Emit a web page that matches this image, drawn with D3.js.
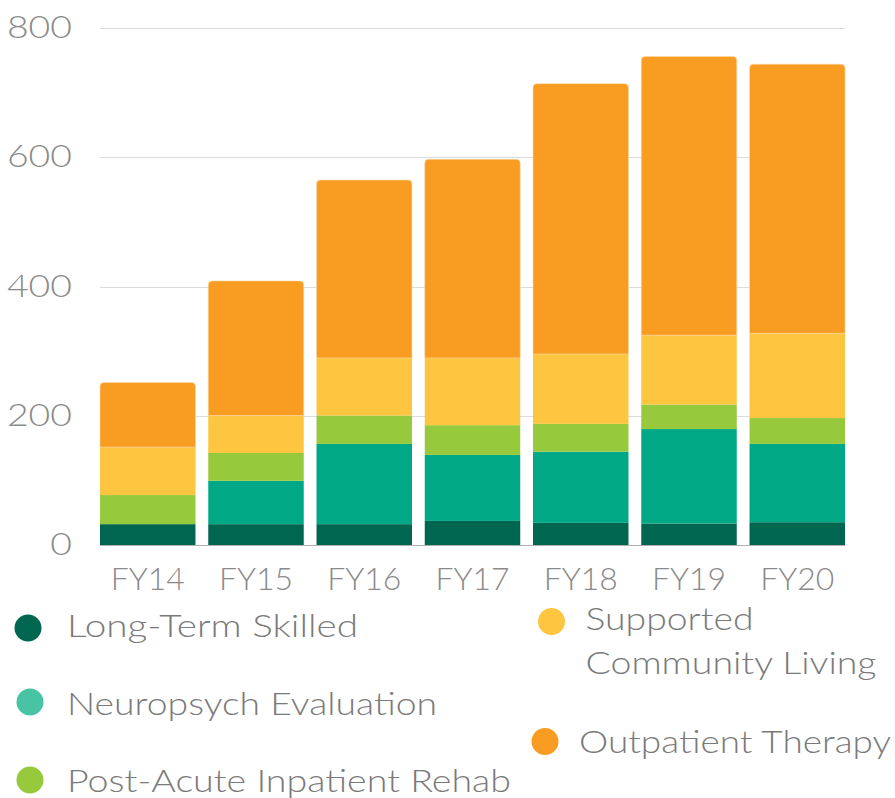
<!DOCTYPE html>
<html>
<head>
<meta charset="utf-8">
<script src="https://cdn.jsdelivr.net/npm/d3@7"></script>
<style>
  html, body { margin: 0; padding: 0; background: #fff; }
  svg { display: block; font-family: Lato, "Open Sans", sans-serif; font-weight: 300; }
</style>
</head>
<body>
<svg id="chart" width="895" height="798"></svg>
<script>
const categories = ["FY14", "FY15", "FY16", "FY17", "FY18", "FY19", "FY20"];
const seriesNames = ["Long-Term Skilled", "Neuropsych Evaluation", "Post-Acute Inpatient Rehab", "Supported Community Living", "Outpatient Therapy"];
const longTermSkilled = [33, 33, 33, 38, 35, 34, 36];
const neuropsychEvaluation = [0, 67, 124, 102, 110, 146, 121];
const postAcuteRehab = [45, 43, 44, 46, 43, 38, 40];
const supportedCommunityLiving = [74, 58, 89, 104, 108, 107, 131];
const outpatientTherapy = [100, 208, 275, 307, 418, 431, 416];
const yTicks = [0, 200, 400, 600, 800];

const barColors = ["#006650", "#00A886", "#97C93D", "#FDC540", "#F89C22"];
const dotColors = ["#006650", "#48C4A4", "#97C93D", "#FDC540", "#F89C22"];

const seriesValues = [longTermSkilled, neuropsychEvaluation, postAcuteRehab, supportedCommunityLiving, outpatientTherapy];
const keys = seriesNames;
const table = categories.map((c, i) => {
  const row = { cat: c };
  keys.forEach((k, j) => row[k] = seriesValues[j][i]);
  return row;
});

const svg = d3.select("#chart");
const x = d3.scaleBand().domain(categories).range([100, 845]).paddingInner(0.118).paddingOuter(0);
const y = d3.scaleLinear().domain([0, 800]).range([545.5, 28]);

// gridlines
svg.append("g").selectAll("line").data(yTicks.filter(d => d > 0)).join("line")
  .attr("x1", 100).attr("x2", 845)
  .attr("y1", d => Math.round(y(d)) + 0.5).attr("y2", d => Math.round(y(d)) + 0.5)
  .attr("stroke", "#dcdcdc").attr("stroke-width", 1);

// y axis labels
const yAxis = d3.axisLeft(y).tickValues(yTicks).tickSize(0).tickPadding(0).tickFormat(d3.format("d"));
const gy = svg.append("g").attr("transform", "translate(72,0)").call(yAxis);
gy.select(".domain").remove();
gy.selectAll("text").attr("font-size", 31).attr("fill", "#8a8a8a")
  .attr("font-family", "Lato, 'Open Sans', sans-serif").attr("font-weight", 300).attr("dy", "0.3em")
  .attr("textLength", d => String(d).length * 21.7).attr("lengthAdjust", "spacingAndGlyphs");

// stacked bars
const stack = d3.stack().keys(keys)(table);
const topRadius = 4;
function roundTopPath(x0, y0, w, h, r) {
  return `M${x0},${y0 + h} L${x0},${y0 + r} Q${x0},${y0} ${x0 + r},${y0} L${x0 + w - r},${y0} Q${x0 + w},${y0} ${x0 + w},${y0 + r} L${x0 + w},${y0 + h} Z`;
}
stack.forEach((layer, li) => {
  const g = svg.append("g").attr("fill", barColors[li]);
  if (li === stack.length - 1) {
    g.selectAll("path").data(layer).join("path")
      .attr("d", d => roundTopPath(x(d.data.cat), y(d[1]), x.bandwidth(), y(d[0]) - y(d[1]), topRadius))
      .attr("stroke", "#fbd9a8").attr("stroke-width", 0.6);
  } else {
    g.selectAll("rect").data(layer).join("rect")
      .attr("x", d => x(d.data.cat))
      .attr("y", d => y(d[1]))
      .attr("width", x.bandwidth())
      .attr("height", d => y(d[0]) - y(d[1]));
  }
});

// baseline
svg.append("line").attr("x1", 100).attr("x2", 845).attr("y1", 545.5).attr("y2", 545.5)
  .attr("stroke", "#b0b0b0").attr("stroke-width", 1);

// x axis labels
const xAxis = d3.axisBottom(x).tickSize(0).tickPadding(0);
const gx = svg.append("g").attr("transform", "translate(0,590)").call(xAxis);
gx.select(".domain").remove();
gx.selectAll("text").attr("font-size", 31).attr("fill", "#8a8a8a").attr("dy", 0)
  .attr("font-family", "Lato, 'Open Sans', sans-serif").attr("font-weight", 300)
  .attr("textLength", 74).attr("lengthAdjust", "spacingAndGlyphs");

// legend
const legendItems = [
  { i: 0, cx: 28, cy: 628, tx: 67, lines: ["Long-Term Skilled"], by: 637, widths: [291] },
  { i: 1, cx: 30, cy: 702, tx: 67, lines: ["Neuropsych Evaluation"], by: 715, widths: [370] },
  { i: 2, cx: 30, cy: 780, tx: 67, lines: ["Post-Acute Inpatient Rehab"], by: 792, widths: [444] },
  { i: 3, cx: 551.5, cy: 621.5, tx: 585.5, lines: ["Supported", "Community Living"], by: 630, widths: [168, 291] },
  { i: 4, cx: 545, cy: 741.5, tx: 579, lines: ["Outpatient Therapy"], by: 753, widths: [312] }
];
const lg = svg.append("g");
legendItems.forEach(it => {
  lg.append("circle").attr("cx", it.cx).attr("cy", it.cy).attr("r", 13.5).attr("fill", dotColors[it.i]);
  it.lines.forEach((ln, k) => {
    lg.append("text").attr("x", it.tx).attr("y", it.by + k * 43.5)
      .attr("font-size", 31).attr("fill", "#7a7a7a")
      .attr("textLength", it.widths[k]).attr("lengthAdjust", "spacingAndGlyphs")
      .text(ln);
  });
});
</script>
</body>
</html>
